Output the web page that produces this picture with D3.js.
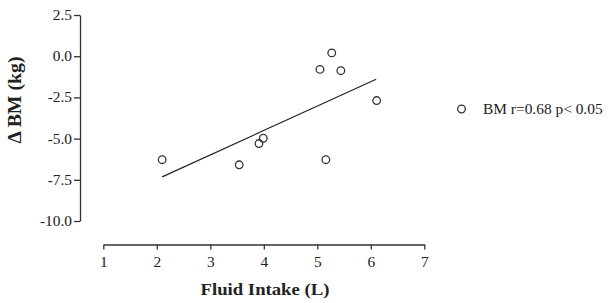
<!DOCTYPE html>
<html lang="en">
<head>
<meta charset="utf-8">
<title>Fluid intake vs body mass change</title>
<script src="https://cdn.jsdelivr.net/npm/d3@7"></script>
<style>
  body { margin: 0; background: #fff; }
  text { font-family: "Liberation Serif", "Times New Roman", serif; fill: #222; }
</style>
</head>
<body>
<script>
// data
var fluid = [2.10, 3.54, 3.91, 3.99, 5.05, 5.27, 5.44, 5.16, 6.11];
var dBM   = [-6.28, -6.59, -5.30, -4.98, -0.80, 0.20, -0.88, -6.28, -2.69];
var fitX  = [2.1, 6.1];
var fitY  = [-7.32, -1.40];
var xTicks = [1, 2, 3, 4, 5, 6, 7];
var yTicks = [2.5, 0, -2.5, -5, -7.5, -10];
var legendLabel = "BM r=0.68 p< 0.05";

var w = 608, h = 303;
var stretch = 1.1; // the picture's lettering is a bit wider than it is tall

var svg = d3.select("body").append("svg")
  .attr("width", w)
  .attr("height", h);

var x = d3.scaleLinear().domain([1, 7]).range([103.3, 424.3]);
var y = d3.scaleLinear().domain([-10, 2.5]).range([221, 15]);

// y axis
var yAxis = svg.append("g")
  .attr("transform", "translate(80,0)")
  .call(d3.axisLeft(y).tickValues(yTicks).tickSize(6).tickSizeOuter(0)
    .tickFormat(function(d) { return d.toFixed(1); }));
yAxis.select(".domain").attr("stroke", "#333").attr("stroke-width", 1.3);
yAxis.selectAll(".tick line").attr("stroke", "#333").attr("stroke-width", 1.3);
yAxis.selectAll(".tick text").attr("font-size", "14px").attr("x", -8)
  .style("font-family", "Liberation Serif").attr("fill", "#222");

// x axis
var xAxis = svg.append("g")
  .attr("transform", "translate(0,244.5)")
  .call(d3.axisBottom(x).tickValues(xTicks).tickSize(5).tickSizeOuter(0)
    .tickFormat(d3.format("d")));
xAxis.select(".domain").attr("stroke", "#333").attr("stroke-width", 1.3);
xAxis.selectAll(".tick line").attr("stroke", "#333").attr("stroke-width", 1.3);
xAxis.selectAll(".tick text").attr("font-size", "14px").attr("y", 13)
  .style("font-family", "Liberation Serif").attr("fill", "#222");

// axis titles
svg.append("text")
  .attr("class", "title")
  .attr("transform", "translate(21,100) rotate(-90)")
  .attr("text-anchor", "middle")
  .attr("font-size", "18px")
  .attr("font-weight", "bold")
  .text("\u0394 BM (kg)");

svg.append("text")
  .attr("class", "title")
  .attr("x", 265)
  .attr("y", 295)
  .attr("text-anchor", "middle")
  .attr("font-size", "17px")
  .attr("font-weight", "bold")
  .text("Fluid Intake (L)");

// fit line
svg.append("line")
  .attr("x1", x(fitX[0])).attr("y1", y(fitY[0]))
  .attr("x2", x(fitX[1])).attr("y2", y(fitY[1]))
  .attr("stroke", "#222")
  .attr("stroke-width", 1.2);

// points
svg.selectAll("circle.pt")
  .data(fluid)
  .enter()
  .append("circle")
  .attr("class", "pt")
  .attr("cx", function(d) { return x(d); })
  .attr("cy", function(d, i) { return y(dBM[i]); })
  .attr("r", 3.8)
  .attr("fill", "none")
  .attr("stroke", "#333")
  .attr("stroke-width", 1.3);

// legend
svg.append("circle")
  .attr("cx", 461.5).attr("cy", 109)
  .attr("r", 3.8)
  .attr("fill", "none")
  .attr("stroke", "#333")
  .attr("stroke-width", 1.3);
svg.append("text")
  .attr("x", 483)
  .attr("y", 114)
  .attr("font-size", "14px")
  .text(legendLabel);

// widen the lettering a little
svg.selectAll("text").each(function() {
  var len = this.getComputedTextLength();
  d3.select(this).attr("textLength", len * stretch).attr("lengthAdjust", "spacingAndGlyphs");
});
</script>
</body>
</html>
